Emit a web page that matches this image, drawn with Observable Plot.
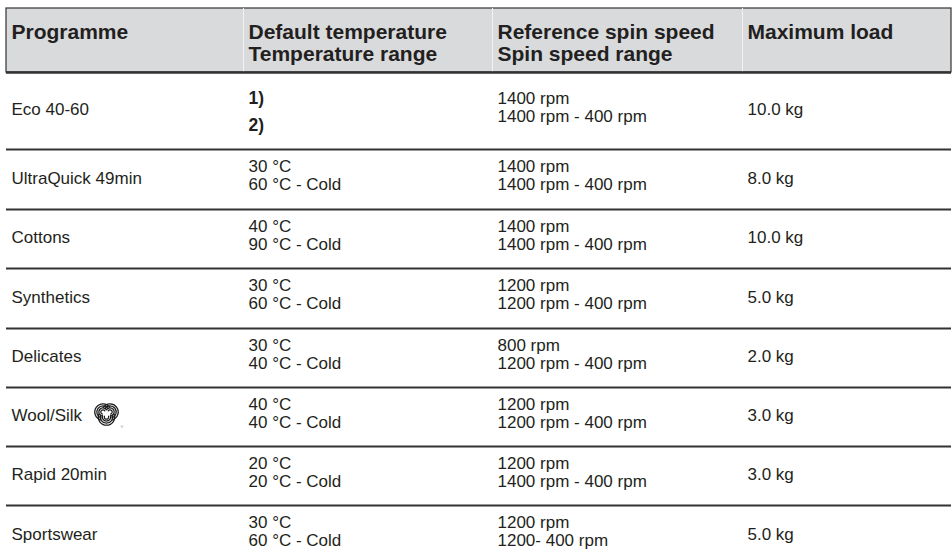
<!DOCTYPE html>
<html>
<head>
<meta charset="utf-8">
<script src="https://cdn.jsdelivr.net/npm/d3@7"></script>
<script src="https://cdn.jsdelivr.net/npm/@observablehq/plot@0.6"></script>
<style>
  html, body { margin: 0; padding: 0; background: #fff; }
  #chart svg { display: block; font-family: "Liberation Sans", Arial, sans-serif; }
</style>
</head>
<body>
<div id="chart"></div>
<script>
// ---- data ----
const headers = [
  "Programme",
  "Default temperature\nTemperature range",
  "Reference spin speed\nSpin speed range",
  "Maximum load"
];
const programmes = ["Eco 40-60", "UltraQuick 49min", "Cottons", "Synthetics", "Delicates", "Wool/Silk", "Rapid 20min", "Sportswear"];
const defaultTemps = ["1)", "30 °C", "40 °C", "30 °C", "30 °C", "40 °C", "20 °C", "30 °C"];
const tempRanges = ["2)", "60 °C - Cold", "90 °C - Cold", "60 °C - Cold", "40 °C - Cold", "40 °C - Cold", "20 °C - Cold", "60 °C - Cold"];
const refSpins = ["1400 rpm", "1400 rpm", "1400 rpm", "1200 rpm", "800 rpm", "1200 rpm", "1200 rpm", "1200 rpm"];
const spinRanges = ["1400 rpm - 400 rpm", "1400 rpm - 400 rpm", "1400 rpm - 400 rpm", "1200 rpm - 400 rpm", "1200 rpm - 400 rpm", "1200 rpm - 400 rpm", "1400 rpm - 400 rpm", "1200- 400 rpm"];
const maxLoads = [10.0, 8.0, 10.0, 5.0, 2.0, 3.0, 3.0, 5.0];

// ---- layout (table grid, in table units) ----
const colWidths = [237, 249, 250, 209];
const rowHeights = [64, 77, 60, 59, 60, 59, 59, 59, 60]; // header + 8 rows
const colStart = [0]; colWidths.forEach((w, i) => colStart.push(colStart[i] + w));
const rowStart = [0]; rowHeights.forEach((h, i) => rowStart.push(rowStart[i] + h));
const tableW = colStart[colStart.length - 1];
const tableH = rowStart[rowStart.length - 1];

const textColor = "#231f20";
const lineColor = "#333333";

// header cells
const headerCells = headers.map((t, i) => ({col: i, text: t}));

// body cells
const singleCells = [];
const doubleCells = [];
const boldCells = [];
programmes.forEach((p, r) => {
  const row = r + 1;
  singleCells.push({col: 0, row, text: p});
  const temp = defaultTemps[r] + "\n" + tempRanges[r];
  if (/\)$/.test(defaultTemps[r])) boldCells.push({col: 1, row, text: temp});
  else doubleCells.push({col: 1, row, text: temp});
  doubleCells.push({col: 2, row, text: refSpins[r] + "\n" + spinRanges[r]});
  singleCells.push({col: 3, row, text: maxLoads[r].toFixed(1) + " kg"});
});
const rowMid = row => rowStart[row] + rowHeights[row] / 2;

// woolmark icon (three striped loops) as inline svg
function arcPath(cx, cy, r, a0, a1) {
  const p0 = [cx + r * Math.cos(a0), cy + r * Math.sin(a0)];
  const p1 = [cx + r * Math.cos(a1), cy + r * Math.sin(a1)];
  const large = (a1 - a0) > Math.PI ? 1 : 0;
  return `M${p0[0].toFixed(2)} ${p0[1].toFixed(2)}A${r} ${r} 0 ${large} 1 ${p1[0].toFixed(2)} ${p1[1].toFixed(2)}`;
}
const loops = [
  {cx: 12.5, cy: 12, dir: -2.5},
  {cx: 19.5, cy: 12, dir: -0.65},
  {cx: 16, cy: 17, dir: Math.PI / 2}
];
let woolPaths = "";
loops.forEach(l => {
  [2.2, 4.2, 6.2, 8.2].forEach(r => {
    woolPaths += `<path d="${arcPath(l.cx, l.cy, r, l.dir - 1.9, l.dir + 1.9)}"/>`;
  });
});
const woolSvg = `<svg xmlns="http://www.w3.org/2000/svg" width="34" height="30" viewBox="0 0 34 30">
<g fill="none" stroke="#1e1e1e" stroke-width="1.3" stroke-linecap="round">${woolPaths}</g>
<circle cx="31.5" cy="26.5" r="0.9" fill="none" stroke="#888" stroke-width="0.4"/>
</svg>`;
const woolSrc = "data:image/svg+xml;charset=utf-8," + encodeURIComponent(woolSvg);
const woolRow = programmes.indexOf("Wool/Silk") + 1;

const chart = Plot.plot({
  width: 952,
  height: 559,
  marginLeft: 6, marginTop: 8, marginRight: 952 - 6 - tableW, marginBottom: 559 - 8 - tableH,
  style: {background: "#fff", color: textColor, overflow: "hidden"},
  x: {type: "linear", domain: [0, tableW], axis: null},
  y: {type: "linear", domain: [0, tableH], reverse: true, axis: null},
  marks: [
    // header band
    Plot.rect([0], {x1: 0, x2: tableW, y1: 0, y2: rowHeights[0], fill: "#d9dadc", stroke: lineColor, strokeWidth: 1.2}),
    // header column separators
    Plot.ruleX(colStart.slice(1, -1), {y1: 0, y2: rowHeights[0], stroke: "#f2f2f2", strokeWidth: 1}),
    // header bottom rule
    Plot.ruleY([rowStart[1]], {x1: 0, x2: tableW, stroke: lineColor, strokeWidth: 2.5}),
    // row separators
    Plot.ruleY(rowStart.slice(2, -1), {x1: 0, x2: tableW, stroke: lineColor, strokeWidth: 2}),
    // header text
    Plot.text(headerCells, {
      x: d => colStart[d.col], y: () => 0, text: "text", dx: 5, dy: 14.5,
      textAnchor: "start", lineAnchor: "top", lineHeight: 1.05,
      fontSize: 21, fontWeight: "bold", fill: textColor
    }),
    // single-line body text
    Plot.text(singleCells, {
      x: d => colStart[d.col], y: d => rowMid(d.row), text: "text", dx: 5, dy: -1,
      textAnchor: "start", lineAnchor: "middle",
      fontSize: 17, fill: textColor
    }),
    // two-line body text
    Plot.text(doubleCells, {
      x: d => colStart[d.col], y: d => rowMid(d.row), text: "text", dx: 5, dy: -4,
      textAnchor: "start", lineAnchor: "middle", lineHeight: 1.04,
      fontSize: 17, fill: textColor
    }),
    // bold footnote markers
    Plot.text(boldCells, {
      x: d => colStart[d.col], y: d => rowMid(d.row), text: "text", dx: 5, dy: -2,
      textAnchor: "start", lineAnchor: "middle", lineHeight: 1.55,
      fontSize: 17.5, fontWeight: "bold", fill: textColor
    }),
    // woolmark
    Plot.image([woolRow], {x: () => 0, y: d => rowMid(d), src: () => woolSrc, width: 34, height: 30, dx: 101, dy: -2})
  ]
});
document.getElementById("chart").appendChild(chart);
</script>
</body>
</html>
